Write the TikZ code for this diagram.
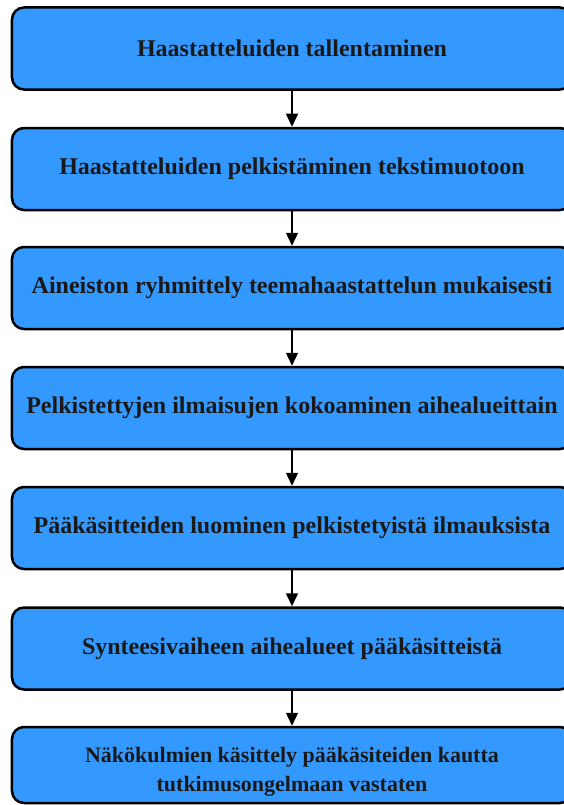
\documentclass[tikz,border=0pt]{standalone}
\usepackage{fontspec}
\setmainfont{Liberation Serif}
\usetikzlibrary{arrows.meta}
\definecolor{boxblue}{RGB}{51,153,255}
\tikzset{
  stepbox/.style={draw=black, line width=2.5bp, fill=boxblue, rounded corners=12bp,
    minimum width=560bp, minimum height=82bp, inner sep=0pt, align=center,
    font=\fontsize{24bp}{29bp}\selectfont\bfseries, text=black!90},
  smalltext/.style={font=\fontsize{22bp}{29bp}\selectfont\bfseries},
  flow/.style={line width=1.6bp, -{Triangle[width=12bp,length=13bp]}}
}
\begin{document}
\begin{tikzpicture}[x=1bp,y=-1bp]
\useasboundingbox (0,0) rectangle (564,805);
\clip (0,0) rectangle (564,805);
\node[stepbox] (b1) at (292,48.5) {Haastatteluiden tallentaminen};
\node[stepbox] (b2) at (292,169) {Haastatteluiden pelkistäminen tekstimuotoon};
\node[stepbox] (b3) at (292,288) {Aineiston ryhmittely teemahaastattelun mukaisesti};
\node[stepbox] (b4) at (292,408) {Pelkistettyjen ilmaisujen kokoaminen aihealueittain};
\node[stepbox] (b5) at (292,528) {Pääkäsitteiden luominen pelkistetyistä ilmauksista};
\node[stepbox] (b6) at (292,648.5) {Synteesivaiheen aihealueet pääkäsitteistä};
\node[stepbox, smalltext, minimum height=76bp] (b7) at (292,765) {\raisebox{-6bp}[\height][\depth]{\begin{tabular}{@{}c@{}}Näkökulmien käsittely pääkäsiteiden kautta\\tutkimusongelmaan vastaten\end{tabular}}};
\draw[flow] (b1) -- (b2);
\draw[flow] (b2) -- (b3);
\draw[flow] (b3) -- (b4);
\draw[flow] (b4) -- (b5);
\draw[flow] (b5) -- (b6);
\draw[flow] (b6) -- (b7);
\end{tikzpicture}
\end{document}
